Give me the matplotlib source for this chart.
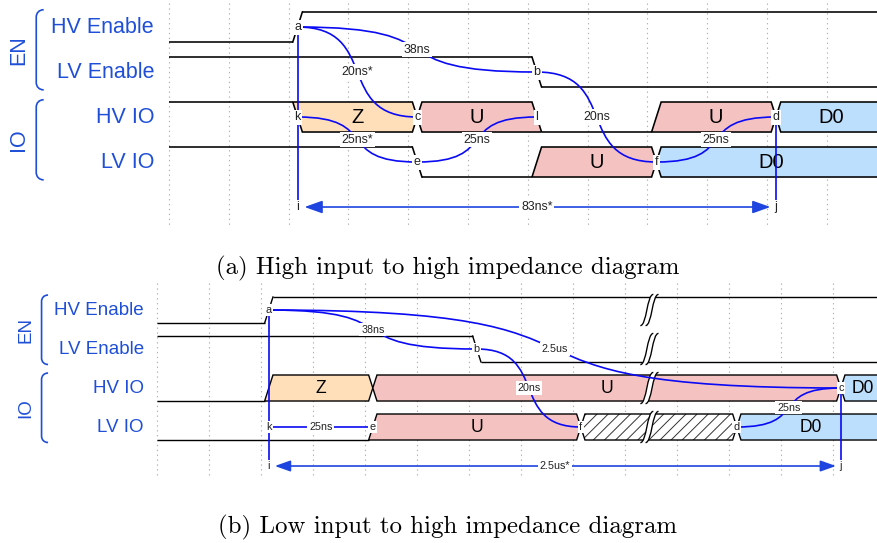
import matplotlib
matplotlib.use("Agg")
import matplotlib.pyplot as plt
from matplotlib.path import Path
from matplotlib.patches import PathPatch, Polygon

# ---------------- data ----------------
GROUPS = ["EN", "IO"]
LANE_NAMES = ["HV Enable", "LV Enable", "HV IO", "LV IO"]

A_WAVES = ["0.1.........", "1.....0.....", "1.=.=.0.=.=.", "1...0.=.=..."]
A_DATA = [[], [], ["Z", "U", "U", "D0"], ["U", "D0"]]
A_NODES = ["..a.........", "......b.....", "..k.c.l...d.", "....e...f...", "..i.......j."]
A_GAPS = []
A_EDGES = [("a", "c", "~", "20ns*"), ("a", "b", "~", "38ns"), ("b", "f", "~", "20ns"),
           ("k", "e", "~", "25ns*"), ("e", "l", "~", "25ns"), ("f", "d", "~", "25ns"),
           ("a", "i", "-", ""), ("d", "j", "-", ""), ("i", "j", "<->", "83ns*")]
A_CAPTION = "(a) High input to high impedance diagram"

B_WAVES = ["0.1...........", "1.....0.......", "0.=.=........=", "0...=...x..=.."]
B_DATA = [[], [], ["Z", "U", "D0"], ["U", "D0"]]
B_NODES = ["..a...........", "......b.......", ".............c", "..k.e...f..d..", "..i..........j"]
B_GAPS = [9, 9, 9, 9]
B_EDGES = [("a", "b", "~", "38ns"), ("a", "c", "~", "2.5us"), ("b", "f", "~", "20ns"),
           ("k", "e", "-", "25ns"), ("d", "c", "~", "25ns"),
           ("a", "i", "-", ""), ("c", "j", "-", ""), ("i", "j", "<->", "2.5us*")]
B_CAPTION = "(b) Low input to high impedance diagram"

DATA_COLORS = {"Z": "#fedfba", "U": "#f5c2c2", "D0": "#bbdffd"}

# ---------------- style / layout ----------------
W, H = 877, 543
LABEL_BLUE = "#1f4fd8"
EDGE_BLUE = "#0a0af5"
ARROW_BLUE = "#1f45e0"
SANS = ["Liberation Sans", "DejaVu Sans"]
LH = 0.667      # lane height in lane-pitch units
PH = 0.15       # transition phase
HT = 0.08       # half transition width (periods)
WU_X = 0.025    # wavedrom unit in periods
WU_Y = LH / 20.0

LAYOUT_A = dict(x0=169, period=59.8, y0=12, pitch=45, top=0, bottom=240, scale=1.0,
                grid=(-0.2, 4.73), cap_y=268)
LAYOUT_B = dict(x0=157, period=52.0, y0=297, pitch=39, top=280, bottom=500, scale=0.87,
                grid=(-0.36, 4.64), cap_y=527)

plt.rcParams["hatch.linewidth"] = 0.7

fig = plt.figure(figsize=(W / 100, H / 100), dpi=100)


def parse(wave, labels):
    segs = []
    it = iter(labels)
    for i, ch in enumerate(wave):
        if ch == ".":
            continue
        lab = next(it) if ch == "=" else None
        segs.append([i, None, ch, lab])
    for j, s in enumerate(segs):
        s[1] = segs[j + 1][0] if j + 1 < len(segs) else len(wave)
    return segs


def draw_lane(ax, li, wave, labels, sc):
    top, bot, mid = li, li + LH, li + LH / 2
    lvl = {"1": top, "0": bot}
    segs = parse(wave, labels)
    lw = 1.15 * sc
    for j, (s, e, ch, lab) in enumerate(segs):
        prev = segs[j - 1][2] if j > 0 else None
        nxt = segs[j + 1][2] if j + 1 < len(segs) else None
        L = s + PH if prev else 0
        R = e + PH if nxt else e
        if ch in "01":
            y = lvl[ch]
            xl = L + HT if prev else 0
            xr = R - HT if nxt else e
            ax.plot([xl, xr], [y, y], color="black", lw=lw, solid_capstyle="butt", zorder=3)
            if nxt in ("0", "1"):
                ax.plot([R - HT, R + HT], [y, lvl[nxt]], color="black", lw=lw, zorder=3)
        else:
            if prev is None:
                left_top, left_bot, left_mid = (0, top), (0, bot), None
            elif prev in "=x":
                left_top, left_bot, left_mid = (L + HT, top), (L + HT, bot), (L, mid)
            elif prev == "1":
                left_top, left_bot, left_mid = (L - HT, top), (L + HT, bot), None
            else:
                left_top, left_bot, left_mid = (L + HT, top), (L - HT, bot), None
            if nxt is None:
                right = [(e, top), (e, bot)]
            elif nxt in "=x":
                right = [(R - HT, top), (R, mid), (R - HT, bot)]
            elif nxt == "1":
                right = [(R + HT, top), (R - HT, bot)]
            else:
                right = [(R - HT, top), (R + HT, bot)]
            pts = [left_top] + right + [left_bot] + ([left_mid] if left_mid else [])
            if ch == "=":
                ax.add_patch(Polygon(pts, closed=True, fc=DATA_COLORS[lab], ec="black",
                                     lw=lw, joinstyle="miter", zorder=2))
                ax.text((L + R) / 2, mid, lab, ha="center", va="center",
                        fontsize=14.5 * sc, family=SANS, color="black", zorder=4)
            else:
                ax.add_patch(Polygon(pts, closed=True, fc="white", ec="#333333", lw=0,
                                     hatch="///", zorder=2))
                ax.add_patch(Polygon(pts, closed=True, fill=False, ec="black", lw=lw,
                                     joinstyle="miter", zorder=2.5))


def draw_gap(ax, li, g, sc):
    xg = g + 0.47
    top = li

    def P(wx, wy):
        return (xg + wx * WU_X, top + wy * WU_Y)

    verts = [P(7, -2), P(3, -2), P(-2, -2), P(-2, 22), P(-7, 22), P(-3, 22),
             P(2, 22), P(2, -2), P(7, -2), P(7, -2)]
    codes = [Path.MOVETO, Path.LINETO, Path.CURVE4, Path.CURVE4, Path.CURVE4, Path.LINETO,
             Path.CURVE4, Path.CURVE4, Path.CURVE4, Path.CLOSEPOLY]
    ax.add_patch(PathPatch(Path(verts, codes), fc="white", ec="none", zorder=5))
    for off in (0, 4):
        v = [P(-7 + off, 22), P(-2 + off, 22), P(-2 + off, -2), P(3 + off, -2)]
        c = [Path.MOVETO, Path.CURVE4, Path.CURVE4, Path.CURVE4]
        ax.add_patch(PathPatch(Path(v, c), fc="none", ec="black", lw=1.1 * sc, zorder=5.5))


def node_positions(nodes):
    pos = {}
    for li, row in enumerate(nodes):
        for i, ch in enumerate(row):
            if ch != ".":
                pos[ch] = (i + PH, li + LH / 2)
    return pos


def draw_edges(ax, pos, edges, sc):
    fs = 8.9 * sc
    for a, b, kind, lab in edges:
        (x1, y1), (x2, y2) = pos[a], pos[b]
        dx, dy = x2 - x1, y2 - y1
        if kind == "~":
            v = [(x1, y1), (x1 + 0.7 * dx, y1), (x1 + 0.3 * dx, y2), (x2, y2)]
            c = [Path.MOVETO, Path.CURVE4, Path.CURVE4, Path.CURVE4]
            ax.add_patch(PathPatch(Path(v, c), fc="none", ec=EDGE_BLUE, lw=1.2, zorder=6))
        elif kind == "-":
            ax.plot([x1, x2], [y1, y2], color=EDGE_BLUE, lw=1.2, zorder=6)
        else:
            ax.annotate("", xy=(x2, y2), xytext=(x1, y1),
                        arrowprops=dict(arrowstyle="<|-|>,head_length=0.9,head_width=0.32",
                                        color=ARROW_BLUE, lw=1.2, shrinkA=5 * sc, shrinkB=4 * sc,
                                        mutation_scale=12 * sc),
                        zorder=6)
        if lab:
            ax.text((x1 + x2) / 2, (y1 + y2) / 2, lab, ha="center", va="center",
                    fontsize=fs, family=SANS, color="#222222", zorder=7,
                    bbox=dict(boxstyle="square,pad=0.15", fc="white", ec="none"))
    for name, (x, y) in pos.items():
        ax.text(x, y, name, ha="center", va="center", fontsize=9.0 * sc, family=SANS,
                color="#222222", zorder=8,
                bbox=dict(boxstyle="square,pad=0.12", fc="white", ec="none"))


def draw_diagram(lay, waves, data, nodes, gaps, edges, caption):
    x0, P, y0, pitch = lay["x0"], lay["period"], lay["y0"], lay["pitch"]
    top, bottom, sc = lay["top"], lay["bottom"], lay["scale"]
    ax = fig.add_axes([0, 1 - bottom / H, 1, (bottom - top) / H])
    ax.set_xlim(-x0 / P, (W - x0) / P)
    ax.set_ylim((bottom - y0) / pitch, (top - y0) / pitch)
    ax.axis("off")

    ncell = len(waves[0])
    g0, g1 = lay["grid"]
    for k in range(ncell):
        ax.plot([k, k], [g0, g1], color="#b0b0b0", lw=0.8, ls=(0, (1.2, 3.2)), zorder=1)

    for li, (w, d) in enumerate(zip(waves, data)):
        draw_lane(ax, li, w, d, sc)
        ax.text(-0.25, li + LH / 2, LANE_NAMES[li], ha="right", va="center",
                fontsize=15.5 * sc, family=SANS, color=LABEL_BLUE)
    for li, g in enumerate(gaps):
        draw_gap(ax, li, g, sc)

    bx = -2.22
    cx, cy = 5 * WU_X, 5 * WU_Y
    for gi, gname in enumerate(GROUPS):
        yt, yb = 2 * gi - 0.05, 2 * gi + 1 + 0.73
        v = [(bx + cx, yt), (bx + 0.4 * cx, yt), (bx, yt + 0.4 * cy), (bx, yt + cy),
             (bx, yb - cy), (bx, yb - 0.4 * cy), (bx + 0.4 * cx, yb), (bx + cx, yb)]
        c = [Path.MOVETO, Path.CURVE4, Path.CURVE4, Path.CURVE4,
             Path.LINETO, Path.CURVE4, Path.CURVE4, Path.CURVE4]
        ax.add_patch(PathPatch(Path(v, c), fc="none", ec=LABEL_BLUE, lw=1.2, zorder=3))
        ax.text(-2.52, (yt + yb) / 2, gname, rotation=90, ha="center", va="center",
                fontsize=15.5 * sc, family=SANS, color=LABEL_BLUE)

    draw_edges(ax, node_positions(nodes), edges, sc)
    fig.text(448 / W, 1 - lay["cap_y"] / H, caption, ha="center", va="center",
             fontsize=17.9, family="cmr10", color="black")


draw_diagram(LAYOUT_A, A_WAVES, A_DATA, A_NODES, A_GAPS, A_EDGES, A_CAPTION)
draw_diagram(LAYOUT_B, B_WAVES, B_DATA, B_NODES, B_GAPS, B_EDGES, B_CAPTION)

fig.savefig("out.png", dpi=100)
